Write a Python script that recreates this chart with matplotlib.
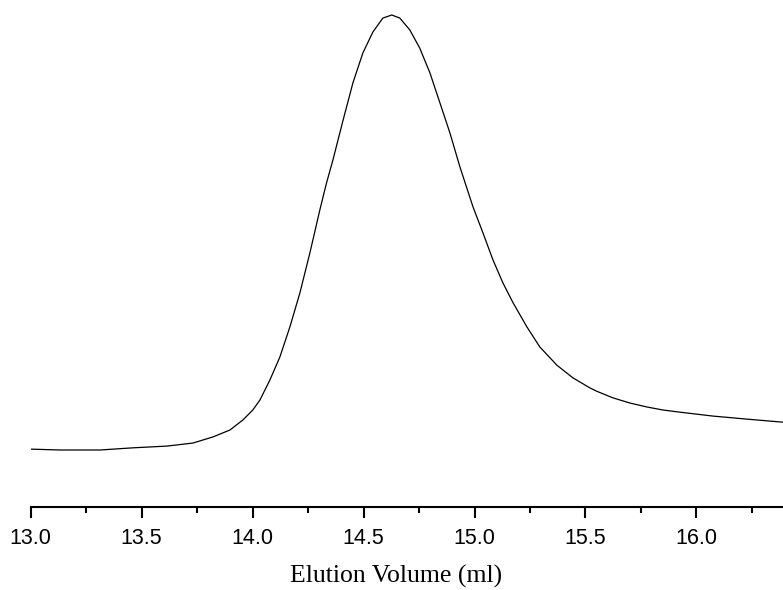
import matplotlib
matplotlib.use("Agg")
import matplotlib.pyplot as plt
from matplotlib.ticker import MultipleLocator

# elution profile (signal normalised to peak = 1)
volume = [13.000, 13.132, 13.312, 13.461, 13.614, 13.731, 13.821, 13.898, 13.956, 14.001,
          14.033, 14.078, 14.123, 14.168, 14.213, 14.258, 14.303, 14.332, 14.362, 14.407,
          14.452, 14.497, 14.542, 14.587, 14.627, 14.663, 14.708, 14.753, 14.799, 14.844,
          14.889, 14.934, 14.993, 15.038, 15.083, 15.128, 15.174, 15.236, 15.294, 15.371,
          15.443, 15.519, 15.551, 15.623, 15.700, 15.776, 15.848, 15.925, 16.074, 16.227,
          16.389]
signal = [0.002, 0.000, 0.000, 0.005, 0.009, 0.016, 0.030, 0.046, 0.069, 0.092,
          0.115, 0.161, 0.214, 0.283, 0.361, 0.453, 0.552, 0.612, 0.667, 0.757,
          0.844, 0.913, 0.961, 0.993, 1.000, 0.993, 0.966, 0.924, 0.867, 0.798,
          0.729, 0.651, 0.559, 0.499, 0.437, 0.384, 0.338, 0.283, 0.237, 0.195,
          0.166, 0.143, 0.135, 0.120, 0.108, 0.099, 0.092, 0.087, 0.078, 0.071,
          0.064]

fig = plt.figure(figsize=(7.83, 5.90), dpi=100)
ax = fig.add_axes([30.7 / 783, 1 - 507 / 590, 1 - 30.7 / 783, 507 / 590])

ax.plot(volume, signal, color="black", lw=0.9, solid_joinstyle="round")

ax.set_xlim(13.0, 16.39)
ax.set_ylim((450 - 507) / 435, 450 / 435)

for s in ["top", "right", "left"]:
    ax.spines[s].set_visible(False)
ax.spines["bottom"].set_linewidth(1.5)
ax.set_yticks([])

ax.xaxis.set_major_locator(MultipleLocator(0.5))
ax.xaxis.set_minor_locator(MultipleLocator(0.25))
ax.tick_params(axis="x", which="major", length=8, width=1.5, pad=7,
               labelsize=15.5)
ax.tick_params(axis="x", which="minor", length=4, width=1.5)
for lbl in ax.get_xticklabels():
    lbl.set_family("Liberation Sans")

fig.text(396.5 / 783, 7 / 590, "Elution Volume (ml)", ha="center",
         va="baseline", fontsize=18.5, family="Liberation Serif")

fig.savefig("out.png", dpi=100)
